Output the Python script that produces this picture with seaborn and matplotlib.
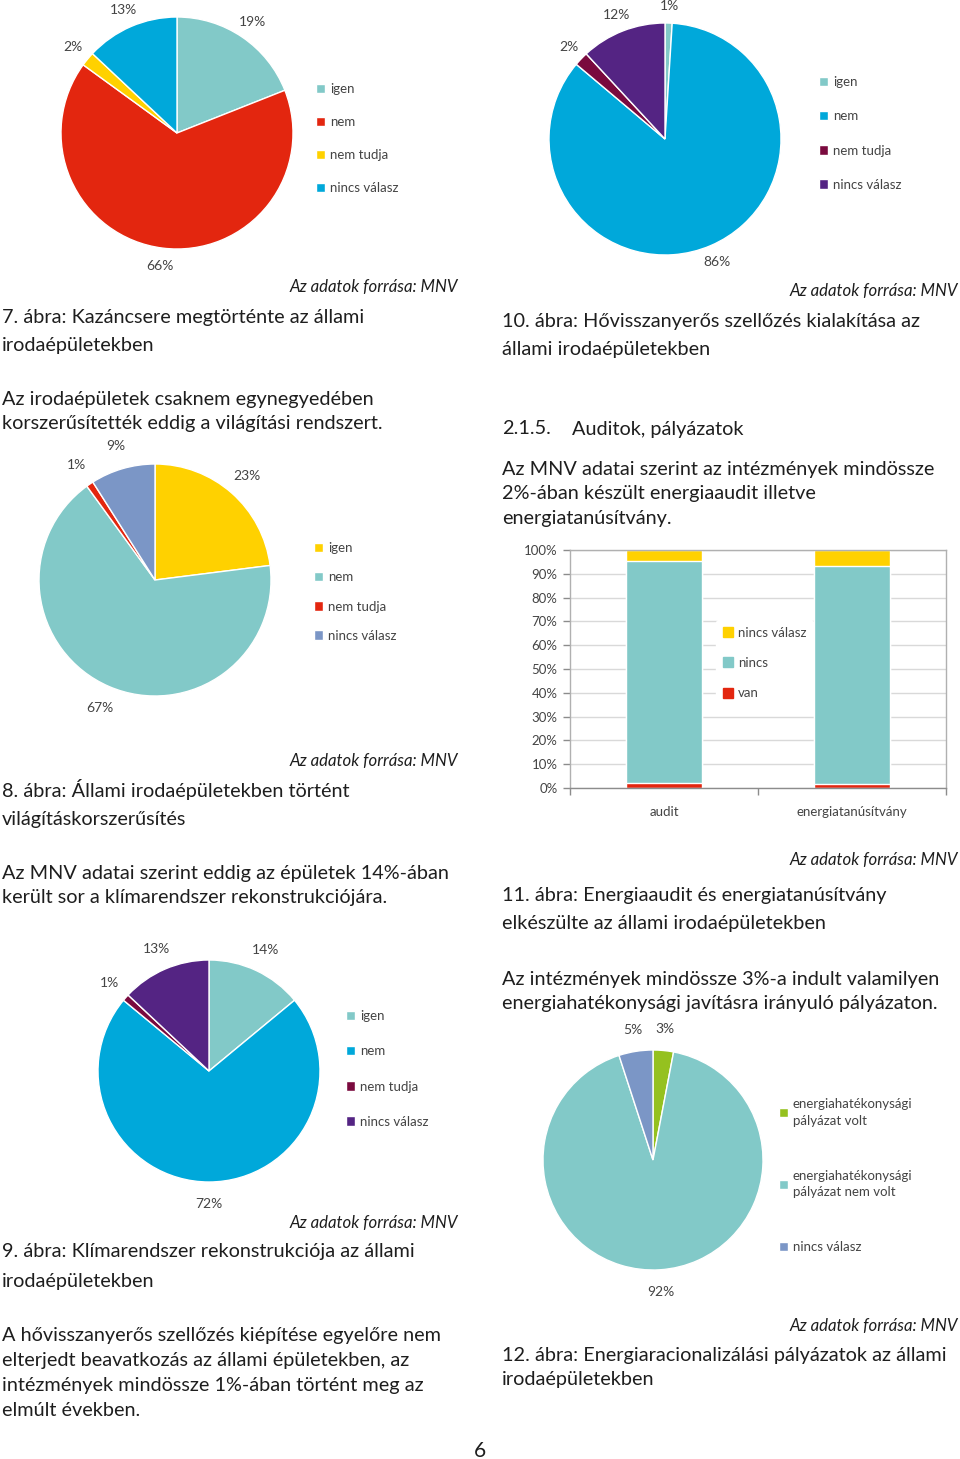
import numpy as np
import pandas as pd
import matplotlib
matplotlib.use('Agg')
import matplotlib.pyplot as plt
import seaborn as sns
from matplotlib.patches import Patch
from matplotlib.ticker import PercentFormatter


W, H = 960, 1459

# colours used in the report
teal = '#82C9C8'
red = '#E3260F'
yellow = '#FFD100'
blue = '#00A8DA'
maroon = '#7A0A3E'
purple = '#542483'
lilac = '#7B96C6'
green = '#95C11F'

pie_labels = ['igen', 'nem', 'nem tudja', 'nincs válasz']

# 7. ábra - kazáncsere
kazan_values = [19, 66, 2, 13]
# 8. ábra - világításkorszerűsítés
vilagitas_values = [23, 67, 1, 9]
# 9. ábra - klímarendszer
klima_values = [14, 72, 1, 13]
# 10. ábra - hővisszanyerős szellőzés
szellozes_values = [1, 86, 2, 12]
# 12. ábra - pályázatok
palyazat_labels = ['energiahatékonysági\npályázat volt',
                   'energiahatékonysági\npályázat nem volt',
                   'nincs válasz']
palyazat_values = [3, 92, 5]

# 11. ábra - audit / tanúsítvány
bar_categories = ['audit', 'energiatanúsítvány']
van = [2.0, 1.7]
nincs = [93.5, 91.7]
nincs_valasz = [4.5, 6.6]

sns.set_theme(style='white')
plt.rcParams['font.family'] = ['Lato', 'DejaVu Sans']

txt_color = '#1e1e1e'
lbl_color = '#444444'
body_size = 14.3

fig = plt.figure(figsize=(9.6, 14.59), dpi=100)


def px_axes(x, y, w, h):
    return fig.add_axes([x / W, 1 - (y + h) / H, w / W, h / H])


def put_lines(x, y, lines, step, size=body_size, **kw):
    for i, line in enumerate(lines):
        fig.text(x / W, 1 - (y + i * step) / H, line, fontsize=size,
                 va='center', color=txt_color, **kw)


def source(x, y):
    fig.text(x / W, 1 - y / H, 'Az adatok forrása: MNV', fontsize=12.1,
             style='italic', ha='right', va='center', color=txt_color)


def draw_pie(cx, cy, r, values, colors, dist=1.2):
    ax = px_axes(cx - 1.5 * r, cy - 1.5 * r, 3 * r, 3 * r)
    wedges, texts = ax.pie(values, colors=colors, startangle=90, counterclock=False,
                           labels=[f'{v}%' for v in values], labeldistance=dist,
                           textprops=dict(fontsize=10, color=lbl_color))
    for t in texts:
        t.set_ha('center')
    ax.set_xlim(-1.5, 1.5)
    ax.set_ylim(-1.5, 1.5)
    ax.set_aspect('equal')
    ax.axis('off')
    return wedges


def pie_legend(wedges, labels, x, y, spacing=1.3):
    leg = fig.legend(wedges, labels, loc='center left', bbox_to_anchor=(x / W, 1 - y / H),
                     bbox_transform=fig.transFigure, frameon=False, fontsize=9.5,
                     handlelength=0.7, handleheight=0.7, handletextpad=0.35,
                     labelspacing=spacing, borderpad=0, borderaxespad=0,
                     labelcolor=lbl_color)
    return leg


# ---- left column ----
w = draw_pie(177, 133, 116, kazan_values, [teal, red, yellow, blue], dist=1.16)
pie_legend(w, pie_labels, 316, 138.5, spacing=1.58)
source(458, 287)
put_lines(2, 317, ['7. ábra: Kazáncsere megtörténte az állami', 'irodaépületekben'], 29)

put_lines(2, 399, ['Az irodaépületek csaknem egynegyedében',
                   'korszerűsítették eddig a világítási rendszert.'], 25)

w = draw_pie(155, 580, 116, vilagitas_values, [yellow, teal, red, lilac])
pie_legend(w, pie_labels, 314, 592, spacing=1.3)
source(458, 761)
put_lines(2, 790, ['8. ábra: Állami irodaépületekben történt', 'világításkorszerűsítés'], 29)

put_lines(2, 873, ['Az MNV adatai szerint eddig az épületek 14%-ában',
                   'került sor a klímarendszer rekonstrukciójára.'], 25)

w = draw_pie(209, 1071, 111, klima_values, [teal, blue, maroon, purple])
pie_legend(w, pie_labels, 346, 1069, spacing=1.75)
source(458, 1223)
put_lines(2, 1252, ['9. ábra: Klímarendszer rekonstrukciója az állami', 'irodaépületekben'], 29)

put_lines(2, 1335, ['A hővisszanyerős szellőzés kiépítése egyelőre nem',
                    'elterjedt beavatkozás az állami épületekben, az',
                    'intézmények mindössze 1%-ában történt meg az',
                    'elmúlt években.'], 25.3)

# ---- right column ----
w = draw_pie(665, 139, 116, szellozes_values, [teal, blue, maroon, purple], dist=1.15)
pie_legend(w, pie_labels, 819, 133.5, spacing=1.67)
source(958, 291)
put_lines(502, 321, ['10. ábra: Hővisszanyerős szellőzés kialakítása az',
                     'állami irodaépületekben'], 29)

put_lines(502, 429, ['2.1.5.'], 25)
put_lines(572, 429, ['Auditok, pályázatok'], 25)
put_lines(502, 469, ['Az MNV adatai szerint az intézmények mindössze',
                     '2%-ában készült energiaaudit illetve',
                     'energiatanúsítvány.'], 25)

# stacked bar chart
ax = px_axes(570, 550, 376, 238)
cats = pd.Series(bar_categories)
top = np.array(van) + np.array(nincs) + np.array(nincs_valasz)
mid = np.array(van) + np.array(nincs)
sns.barplot(x=cats, y=top, color=yellow, saturation=1, width=0.4, ax=ax)
sns.barplot(x=cats, y=mid, color=teal, saturation=1, width=0.4, ax=ax)
sns.barplot(x=cats, y=np.array(van), color=red, saturation=1, width=0.4, ax=ax)
ax.set_xlim(-0.5, 1.5)
ax.set_ylim(0, 100)
ax.set_yticks(np.arange(0, 101, 10))
ax.yaxis.set_major_formatter(PercentFormatter(decimals=0))
ax.set_axisbelow(True)
ax.yaxis.grid(True, color='#D9D9D9', lw=1)
ax.set_xlabel('')
ax.set_ylabel('')
for s in ax.spines.values():
    s.set_color('#B0B0B0')
    s.set_linewidth(1)
ax.spines['bottom'].set_color('#8C8C8C')
ax.tick_params(axis='y', left=True, length=5, width=1, color='#8C8C8C',
               labelsize=9.5, labelcolor=lbl_color, pad=4)
ax.tick_params(axis='x', which='major', length=0, labelsize=9.5,
               labelcolor=lbl_color, pad=13)
ax.set_xticks([-0.5, 0.5, 1.5], minor=True)
ax.tick_params(axis='x', which='minor', bottom=True, length=5, width=1, color='#8C8C8C')
handles = [Patch(color=yellow), Patch(color=teal), Patch(color=red)]
ax.legend(handles, ['nincs válasz', 'nincs', 'van'], loc='center left',
          bbox_to_anchor=(716 / W, 1 - 663 / H), bbox_transform=fig.transFigure,
          frameon=True, facecolor='white', edgecolor='white', framealpha=1,
          fontsize=9.5, handlelength=0.8, handleheight=0.8, handletextpad=0.35,
          labelspacing=1.4, borderpad=0.5, borderaxespad=0, labelcolor=lbl_color)

source(958, 860)
put_lines(502, 895, ['11. ábra: Energiaaudit és energiatanúsítvány',
                     'elkészülte az állami irodaépületekben'], 29)
put_lines(502, 979, ['Az intézmények mindössze 3%-a indult valamilyen',
                     'energiahatékonysági javításra irányuló pályázaton.'], 25)

w = draw_pie(653, 1160, 110, palyazat_values, [green, teal, lilac])
leg = pie_legend(w, palyazat_labels, 779, 1175.5, spacing=3.25)
for t in leg.get_texts():
    t.set_linespacing(1.5)
source(958, 1326)
put_lines(502, 1355, ['12. ábra: Energiaracionalizálási pályázatok az állami',
                      'irodaépületekben'], 25)

fig.text(480 / W, 1 - 1451 / H, '6', fontsize=15, ha='center', va='center', color=txt_color)

fig.savefig('out.png', dpi=100, facecolor='white')
